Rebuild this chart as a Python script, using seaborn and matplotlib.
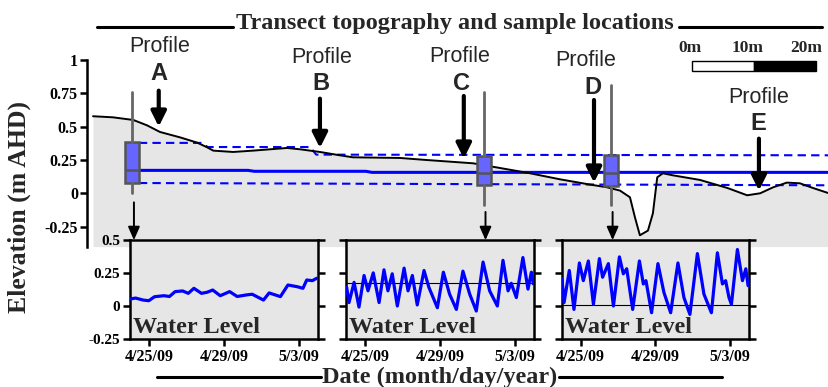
import numpy as np
import pandas as pd
import matplotlib
matplotlib.use("Agg")
import matplotlib.pyplot as plt
import seaborn as sns
from matplotlib.lines import Line2D
from matplotlib.patches import Rectangle

sns.set_style("ticks")
plt.rcParams['font.family'] = ['Liberation Serif', 'DejaVu Serif']
plt.rcParams['font.weight'] = 'bold'

# ---------------- data ----------------
# transect topography (distance in m, elevation in m AHD)
TERRAIN_X = [0.0, 3.2, 6.5, 8.7, 10.8, 14.0, 16.8, 18.4, 19.4, 22.6, 25.8, 31.3, 33.4,
             36.6, 39.8, 41.9, 49.5, 53.7, 61.3, 65.6, 70.5, 75.3, 80.2, 82.9, 85.0,
             86.6, 87.4, 88.2, 89.5, 90.3, 91.0, 91.9, 93.5, 97.9, 102.3, 105.5, 107.6,
             109.7, 111.9, 114.0, 116.1, 118.7]
TERRAIN_Z = [0.578, 0.57, 0.55, 0.51, 0.46, 0.42, 0.38, 0.345, 0.32, 0.31, 0.32, 0.34, 0.33,
             0.31, 0.285, 0.27, 0.265, 0.25, 0.225, 0.19, 0.15, 0.105, 0.065, 0.045, 0.02,
             -0.03, -0.18, -0.315, -0.28, -0.15, 0.12, 0.15, 0.135, 0.10, 0.04, -0.015, 0.0,
             0.045, 0.08, 0.075, 0.04, 0.0]

# water level summary lines across transect
MEAN_X = [7.4, 25.0, 26.0, 44.0, 45.0, 118.7]
MEAN_Z = [0.172, 0.172, 0.165, 0.165, 0.157, 0.157]
UPPER_X = [7.4, 17.5, 18.5, 35.0, 36.0, 118.7]
UPPER_Z = [0.378, 0.378, 0.347, 0.347, 0.29, 0.285]
LOWER_X = [7.4, 118.7]
LOWER_Z = [0.077, 0.06]

# boxplots at sample wells (A, C, D)
BOX_POS = [6.3, 63.0, 83.5]
BOX_WHISLO = [0.0, -0.09, -0.09]
BOX_Q1 = [0.077, 0.06, 0.055]
BOX_MED = [0.172, 0.15, 0.15]
BOX_Q3 = [0.385, 0.28, 0.29]
BOX_WHISHI = [0.76, 0.76, 0.81]

# profile labels and arrows
PROFILE_LETTERS = ["A", "B", "C", "D", "E"]
PROFILE_TEXT_X = [10.8, 36.9, 59.2, 79.4, 107.3]
PROFILE_LETTER_X = [10.7, 36.8, 59.4, 80.6, 107.3]
PROFILE_WORD_Y = [1.10, 1.02, 1.03, 1.00, 0.72]
PROFILE_LETTER_Y = [0.90, 0.82, 0.82, 0.79, 0.52]
ARROW_X = [10.6, 36.6, 59.8, 80.8, 107.4]
ARROW_TOP = [0.77, 0.71, 0.73, 0.70, 0.41]
ARROW_TIP = [0.50, 0.34, 0.26, 0.08, 0.02]

# scale bar
SCALE_M = [96.6, 106.6, 116.6]
SCALE_LABEL_X = [96.3, 105.6, 115.0]
SCALE_LABELS = ["0m", "10m", "20m"]

# water level time series (days since 2009-04-24, m)
DAYS_A = [0.0, 0.3, 0.7, 1.0, 1.3, 1.8, 2.1, 2.4, 2.8, 3.1, 3.4, 3.8, 4.1, 4.4, 4.8, 5.3,
          5.7, 6.2, 6.5, 7.1, 7.4, 8.0, 8.4, 8.9, 9.2, 9.4, 9.7, 9.93]
LEVEL_A = [0.053, 0.06, 0.045, 0.04, 0.07, 0.078, 0.072, 0.109, 0.114, 0.096, 0.134, 0.096,
           0.104, 0.121, 0.078, 0.109, 0.072, 0.084, 0.089, 0.045, 0.099, 0.071, 0.159,
           0.146, 0.134, 0.197, 0.192, 0.21]
DAYS_C = [0.035, 0.16, 0.43, 0.69, 0.96, 1.17, 1.45, 1.76, 2.02, 2.23, 2.46, 2.73, 3.09, 3.30,
          3.53, 3.79, 4.15, 4.41, 4.86, 5.18, 5.51, 5.87, 6.22, 6.58, 6.93, 7.29, 7.64, 8.05,
          8.35, 8.62, 8.79, 9.06, 9.41, 9.68, 9.86, 9.97]
LEVEL_C = [0.141, 0.026, 0.179, -0.008, 0.231, 0.115, 0.251, 0.026, 0.274, 0.115, 0.244, 0.0,
           0.287, 0.115, 0.231, 0.008, 0.269, 0.141, -0.013, 0.256, 0.09, -0.026, 0.264, 0.09,
           -0.038, 0.333, 0.115, 0.0, 0.346, 0.115, 0.172, 0.064, 0.367, 0.128, 0.256, 0.167]
DAYS_D = [0.0, 0.11, 0.39, 0.64, 0.93, 1.14, 1.41, 1.68, 2.00, 2.17, 2.48, 2.75, 3.07, 3.28,
          3.46, 3.78, 4.14, 4.35, 4.49, 4.79, 5.13, 5.45, 5.81, 6.20, 6.52, 6.84, 7.24, 7.59,
          7.99, 8.31, 8.58, 8.75, 8.93, 9.06, 9.38, 9.65, 9.83, 9.95]
LEVEL_D = [0.205, 0.026, 0.269, -0.026, 0.326, 0.192, 0.341, 0.013, 0.359, 0.218, 0.321, 0.0,
           0.372, 0.244, 0.282, -0.026, 0.341, 0.167, 0.192, -0.051, 0.321, 0.103, -0.051,
           0.326, 0.064, -0.064, 0.397, 0.09, -0.051, 0.403, 0.167, 0.192, 0.064, 0.013,
           0.428, 0.192, 0.282, 0.154]
GROUND_REF = [None, 0.175, 0.01]

DATE_TICKS = ["2009-04-25", "2009-04-29", "2009-05-03"]
DATE_LABELS = ["4/25/09", "4/29/09", "5/3/09"]
MAIN_YTICKS = [-0.25, 0, 0.25, 0.5, 0.75, 1]
MAIN_YLABELS = ["-0.25", "0", "0.25", "0.5", "0.75", "1"]
INSET_YTICKS = [-0.25, 0, 0.25, 0.5]
INSET_YLABELS = ["-0.25", "0", "0.25", "0.5"]

# ---------------- figure ----------------
W, H = 829, 387
fig = plt.figure(figsize=(W / 100, H / 100), dpi=100)


def fx(px):
    return px / W


def fy(py):
    return 1 - py / H


GRAY = "#e6e6e6"
BLUE = "#0000ff"
SANS = ["Liberation Sans", "DejaVu Sans"]

ax = fig.add_axes([fx(87), fy(246.6), fx(829) - fx(87), fy(60) - fy(246.6)])
ax.set_xlim(-0.97, 118.7)
ax.set_ylim(-0.4, 1.0)

ax.fill_between(TERRAIN_X, TERRAIN_Z, -0.4, color=GRAY, lw=0, zorder=1)
sns.lineplot(x=TERRAIN_X, y=TERRAIN_Z, ax=ax, color="black", lw=1.4, estimator=None,
             sort=False, zorder=3)

ax.plot(UPPER_X, UPPER_Z, color=BLUE, lw=1.5, dashes=(4, 2.5), zorder=2)
ax.plot(LOWER_X, LOWER_Z, color=BLUE, lw=1.5, dashes=(4, 2.5), zorder=2)
ax.plot(MEAN_X, MEAN_Z, color=BLUE, lw=2.2, zorder=2)

stats = []
for lo, q1, med, q3, hi in zip(BOX_WHISLO, BOX_Q1, BOX_MED, BOX_Q3, BOX_WHISHI):
    stats.append(dict(whislo=lo, q1=q1, med=med, q3=q3, whishi=hi, fliers=[]))
bp = ax.bxp(stats, positions=BOX_POS, widths=2.3, patch_artist=True, showcaps=False,
            showfliers=False, manage_ticks=False,
            boxprops=dict(facecolor="#6666ff", edgecolor="#555555", lw=1.8),
            whiskerprops=dict(color="#666666", lw=2.0),
            medianprops=dict(color="#555555", lw=1.8))
for k in bp:
    for art in bp[k]:
        art.set_zorder(5)

# profile labels + arrows
for i, let in enumerate(PROFILE_LETTERS):
    ax.text(PROFILE_TEXT_X[i], PROFILE_WORD_Y[i], "Profile", ha="center", va="center",
            fontsize=15.5, fontweight="normal", family=SANS)
    ax.text(PROFILE_LETTER_X[i], PROFILE_LETTER_Y[i], let, ha="center", va="center",
            fontsize=17, fontweight="bold", family=SANS)
    ax.annotate("", xy=(ARROW_X[i], ARROW_TIP[i]), xytext=(ARROW_X[i], ARROW_TOP[i]),
                arrowprops=dict(arrowstyle="-|>,head_width=0.45,head_length=0.9",
                                lw=3, color="black", shrinkA=0, shrinkB=0,
                                mutation_scale=10), zorder=6)

# small arrows from wells to the insets
for xpos, top in zip(BOX_POS, [-0.068, -0.14, -0.14]):
    ax.annotate("", xy=(xpos + 0.3, -0.352), xytext=(xpos + 0.3, top),
                arrowprops=dict(arrowstyle="-|>,head_width=0.35,head_length=0.8",
                                lw=1.4, color="black", shrinkA=0, shrinkB=0,
                                mutation_scale=10), zorder=6)

# scale bar
ax.add_patch(Rectangle((SCALE_M[0], 0.915), SCALE_M[1] - SCALE_M[0], 0.075, facecolor="white",
                       edgecolor="black", lw=1, clip_on=False, zorder=6))
ax.add_patch(Rectangle((SCALE_M[1], 0.915), SCALE_M[2] - SCALE_M[1], 0.075, facecolor="black",
                       edgecolor="black", lw=1, clip_on=False, zorder=6))
for xm, lab in zip(SCALE_LABEL_X, SCALE_LABELS):
    ax.text(xm, 1.087, lab, ha="center", va="center", fontsize=12.5, fontweight="bold")

for s in ["top", "right", "bottom"]:
    ax.spines[s].set_visible(False)
ax.spines["left"].set_linewidth(1.8)
ax.spines["left"].set_color("black")
ax.set_xticks([])
ax.set_yticks(MAIN_YTICKS)
ax.set_yticklabels(MAIN_YLABELS, fontsize=11.5, fontweight="bold")
ax.tick_params(axis="y", direction="out", length=5, width=1.8, pad=1.5, colors="black")
ax.set_xlabel("")
ax.set_ylabel("")
ax.set_facecolor("none")

# ---------------- insets ----------------
BASE = pd.Timestamp("2009-04-24")
inset_specs = [(130, 188, DAYS_A, LEVEL_A), (346, 188, DAYS_C, LEVEL_C),
               (562, 187, DAYS_D, LEVEL_D)]
for i, (lpx, wpx, days, levels) in enumerate(inset_specs):
    axi = fig.add_axes([fx(lpx), fy(339), wpx / W, 99 / H])
    axi.set_facecolor(GRAY)
    df = pd.DataFrame({"t": BASE + pd.to_timedelta(days, unit="D"), "v": levels})
    sns.lineplot(data=df, x="t", y="v", ax=axi, color=BLUE, lw=2.3, estimator=None,
                 zorder=3, solid_joinstyle="round")
    if GROUND_REF[i] is not None:
        axi.axhline(GROUND_REF[i], color="black", lw=0.8, zorder=2)
    axi.set_xlim(BASE, BASE + pd.Timedelta(days=10))
    axi.set_ylim(-0.25, 0.5)
    axi.set_xticks([pd.Timestamp(d) for d in DATE_TICKS])
    axi.set_xticklabels(DATE_LABELS, fontsize=11.5, fontweight="bold")
    axi.set_yticks(INSET_YTICKS)
    if i == 0:
        axi.set_yticklabels(INSET_YLABELS, fontsize=11, fontweight="bold")
    else:
        axi.set_yticklabels([])
    axi.tick_params(axis="both", direction="out", length=5, width=1.8, pad=2,
                    left=True, right=True, bottom=True, top=False, colors="black")
    for s in axi.spines.values():
        s.set_linewidth(1.8)
        s.set_color("black")
    axi.set_xlabel("")
    axi.set_ylabel("")
    axi.text(0.016, 0.06, "Water Level", transform=axi.transAxes, ha="left",
             va="baseline", fontsize=17.5, fontweight="bold", zorder=5)

# ---------------- titles & decorative rules ----------------
fig.text(fx(455), fy(29), "Transect topography and sample locations", ha="center",
         va="baseline", fontsize=17.5, fontweight="bold")
fig.add_artist(Line2D([fx(97), fx(233)], [fy(27), fy(27)], color="black", lw=2.2))
fig.add_artist(Line2D([fx(679), fx(822)], [fy(27), fy(27)], color="black", lw=2.2))

fig.text(fx(19), fy(207), "Elevation (m AHD)", rotation=90, ha="center", va="center",
         fontsize=18.5, fontweight="bold")

fig.text(fx(440), fy(383), "Date (month/day/year)", ha="center", va="baseline",
         fontsize=17.5, fontweight="bold")
fig.add_artist(Line2D([fx(157), fx(321)], [fy(377), fy(377)], color="black", lw=2.2))
fig.add_artist(Line2D([fx(559), fx(722)], [fy(377), fy(377)], color="black", lw=2.2))

fig.savefig("out.png", dpi=100)
